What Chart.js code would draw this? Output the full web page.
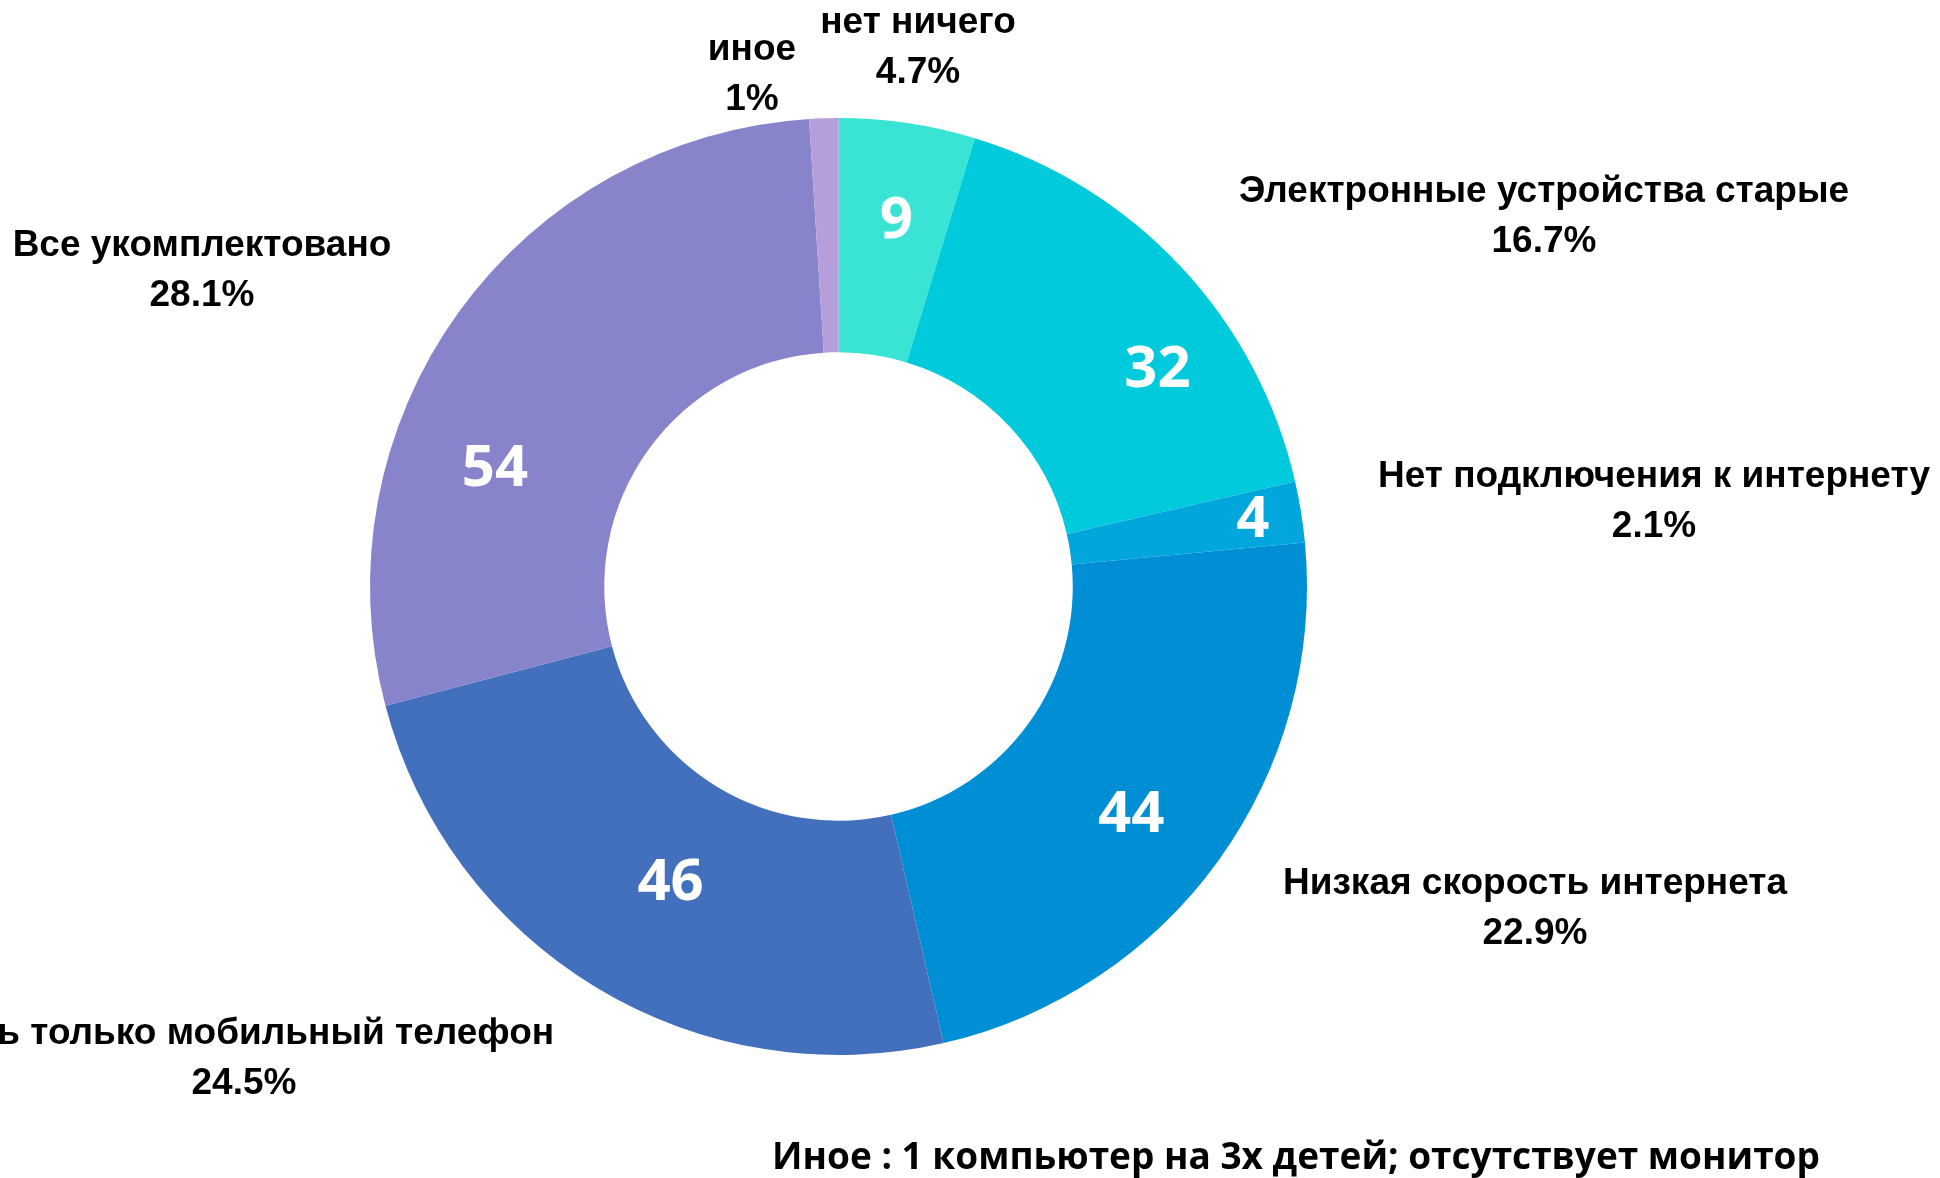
<!DOCTYPE html>
<html>
<head>
<meta charset="utf-8">
<script src="https://cdn.jsdelivr.net/npm/chart.js@4"></script>
<style>
  html, body { margin: 0; padding: 0; background: #ffffff; }
  #wrap { width: 1940px; height: 1178px; }
</style>
</head>
<body>
<div id="wrap"><canvas id="donut" width="1940" height="1178"></canvas></div>
<script>
// categories, clockwise from 12 o'clock
var categories = ["нет ничего", "Электронные устройства старые", "Нет подключения к интернету",
                  "Низкая скорость интернета", "Есть только мобильный телефон", "Все укомплектовано", "иное"];
// share of answers, %  (slice sizes)
var percents = [4.7, 16.7, 2.1, 22.9, 24.5, 28.1, 1];
// answer counts printed on the slices
var counts = [9, 32, 4, 44, 46, 54, 2];
var colors = ["#3ae4d5", "#00cadc", "#00a6dc", "#008fd5", "#4270bd", "#8884cc", "#b69eda"];
var note = "Иное : 1 компьютер на 3х детей; отсутствует монитор";

// where the outside labels sit (canvas px, text centre)
var labelPos = [[918, 23], [1544, 192], [1654, 477], [1535, 884], [244, 1034], [202, 246], [752, 50]];
// where the counts sit: [angle from top in degrees, distance from centre in px]
var countPos = [[8.9, 373], [55.5, 387], [80.5, 420], [127.7, 370], [209.7, 339], [289.3, 364], null];

var labelFont = "bold 37px 'Liberation Sans', Arial, sans-serif";
var countFont = "bold 58px 'Open Sans', sans-serif";

var textPlugin = {
  id: 'textPlugin',
  afterDraw: function(chart) {
    var ctx = chart.ctx;
    var arc0 = chart.getDatasetMeta(0).data[0];
    var cx = arc0.x, cy = arc0.y + 3;
    ctx.save();
    ctx.textAlign = 'center';
    ctx.textBaseline = 'middle';

    // counts inside the ring
    ctx.fillStyle = '#ffffff';
    ctx.font = countFont;
    counts.forEach(function(c, i) {
      if (!countPos[i]) return;
      var a = countPos[i][0] * Math.PI / 180;
      var r = countPos[i][1];
      ctx.fillText(String(c), cx + r * Math.sin(a), cy - r * Math.cos(a));
    });

    // category + percent outside
    ctx.fillStyle = '#000000';
    ctx.font = labelFont;
    categories.forEach(function(name, i) {
      var p = labelPos[i];
      ctx.fillText(name, p[0], p[1]);
      ctx.fillText(percents[i] + '%', p[0], p[1] + 50);
    });

    // footnote
    ctx.font = "bold 37px 'Open Sans', sans-serif";
    ctx.fillText(note, 1296, 1158);
    ctx.restore();
  }
};

new Chart(document.getElementById("donut"), {
  type: 'doughnut',
  data: {
    labels: categories,
    datasets: [{
      data: percents,
      backgroundColor: colors,
      borderWidth: 0
    }]
  },
  options: {
    responsive: false,
    animation: false,
    cutout: '50%',
    layout: { padding: { left: 370, right: 633, top: 118, bottom: 123 } },
    plugins: {
      legend: { display: false },
      tooltip: { enabled: false }
    }
  },
  plugins: [textPlugin]
});
</script>
</body>
</html>
